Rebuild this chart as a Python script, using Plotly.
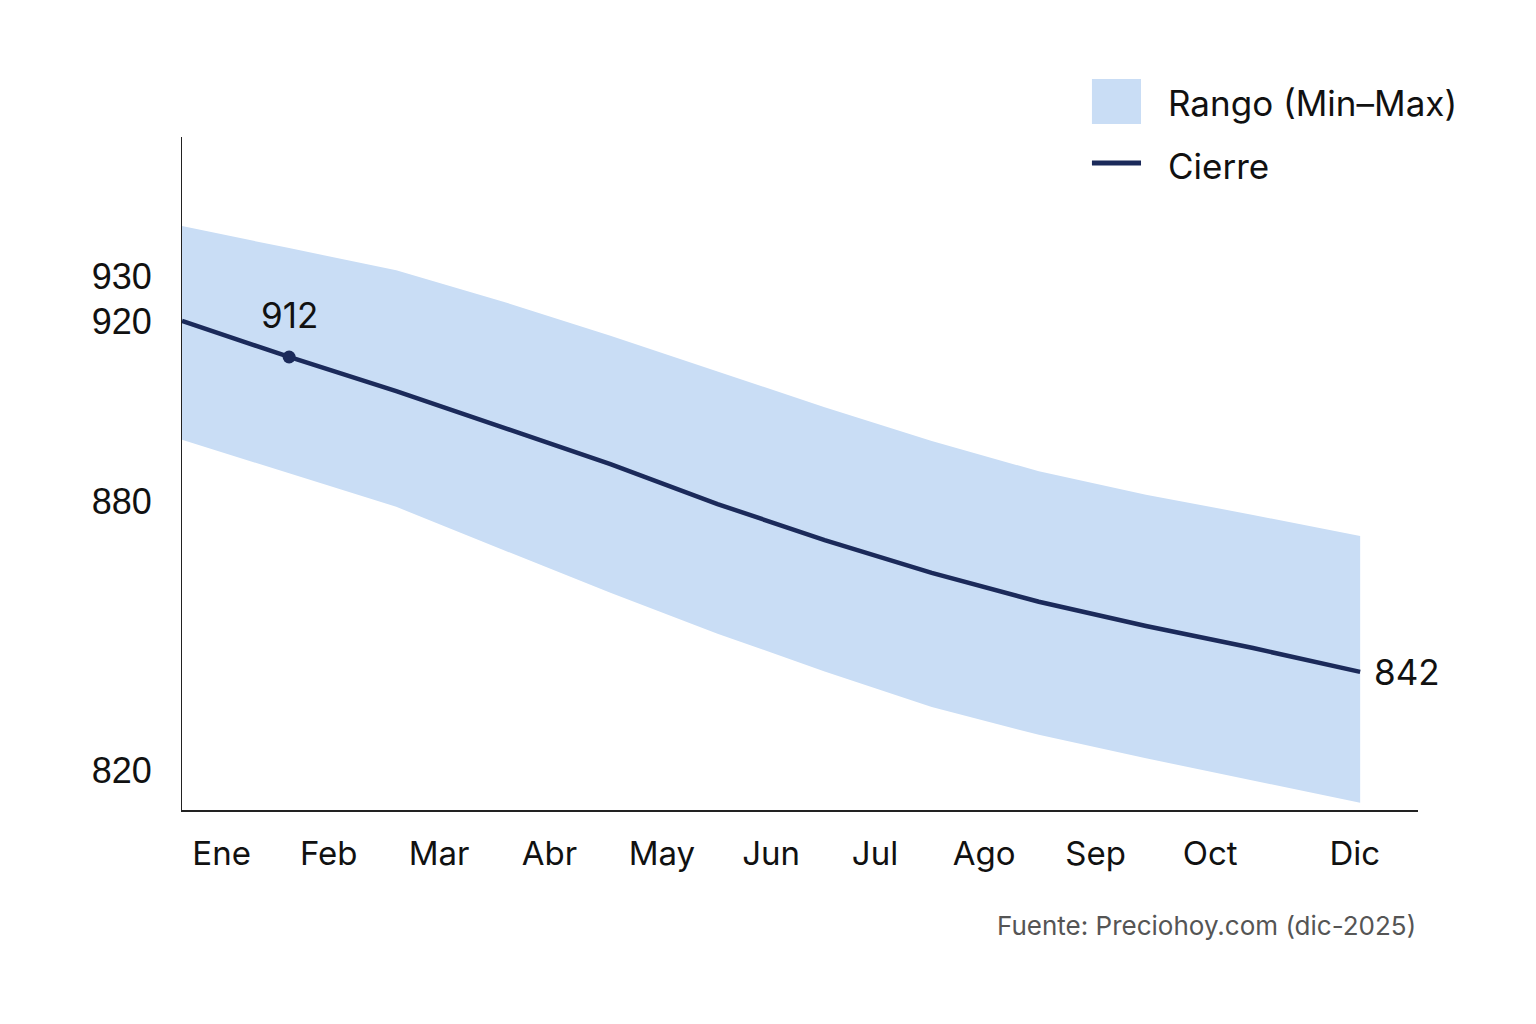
import plotly.graph_objects as go

meses = ["Ene", "Feb", "Mar", "Abr", "May", "Jun", "Jul", "Ago", "Sep", "Oct", "Nov", "Dic"]
cierre = [920.0, 912.0, 904.4, 896.4, 888.2, 879.3, 871.3, 864.0, 857.6, 852.2, 847.3, 842.0]
maximo = [941.1, 936.2, 931.3, 924.3, 916.7, 908.8, 900.8, 893.3, 886.6, 881.4, 876.9, 872.2]
minimo = [893.6, 886.2, 878.7, 869.1, 859.6, 850.5, 842.1, 834.2, 828.0, 822.8, 817.8, 812.9]

tick_labels = ["Ene", "Feb", "Mar", "Abr", "May", "Jun", "Jul", "Ago", "Sep", "Oct", "Dic"]
tick_pos = [0.37, 1.37, 2.4, 3.43, 4.48, 5.5, 6.47, 7.49, 8.53, 9.6, 10.95]
y_ticks = [820, 880, 920, 930]

serie_rango = "Rango (Min–Max)"
serie_cierre = "Cierre"
fuente = "Fuente: Preciohoy.com (dic-2025)"

x = list(range(len(meses)))

BAND = "#c9ddf5"
NAVY = "#1b2a5a"
FONT = "Inter, Roboto, sans-serif"

fig = go.Figure()
fig.add_trace(go.Scatter(x=x, y=minimo, mode="lines", line=dict(width=0, color=BAND),
                         showlegend=False, hoverinfo="skip"))
fig.add_trace(go.Scatter(x=x, y=maximo, mode="none",
                         fill="tonexty", fillcolor=BAND, name=serie_rango))
fig.add_trace(go.Scatter(x=x, y=cierre, mode="lines", line=dict(width=4.5, color=NAVY),
                         name=serie_cierre))
fig.add_trace(go.Scatter(x=[x[1]], y=[cierre[1]], mode="markers",
                         marker=dict(size=13, color=NAVY), showlegend=False))

fig.add_annotation(x=x[1], y=cierre[1], text=str(int(cierre[1])), showarrow=False,
                   yshift=42, font=dict(size=35, color="#111", family=FONT))
fig.add_annotation(x=x[-1], y=cierre[-1], text=str(int(cierre[-1])), showarrow=False,
                   xanchor="left", xshift=12, font=dict(size=35, color="#111", family=FONT))
fig.add_annotation(xref="paper", yref="paper", x=1.0, y=-0.171, xanchor="right", yanchor="middle",
                   text=fuente, showarrow=False,
                   font=dict(size=26, color="#555", family=FONT))

# legend drawn as swatches + labels (matches the reference's large swatches)
fig.add_shape(type="rect", xref="paper", yref="paper", x0=0.7362, x1=0.7759, y0=1.0193, y1=1.0862,
              fillcolor=BAND, line=dict(width=0))
fig.add_shape(type="line", xref="paper", yref="paper", x0=0.7362, x1=0.7759, y0=0.9614, y1=0.9614,
              line=dict(color=NAVY, width=5))
fig.add_annotation(xref="paper", yref="paper", x=0.7961, y=1.0505, xanchor="left", yanchor="middle",
                   text=serie_rango, showarrow=False, font=dict(size=35, color="#111", family=FONT))
fig.add_annotation(xref="paper", yref="paper", x=0.7961, y=0.9569, xanchor="left", yanchor="middle",
                   text=serie_cierre, showarrow=False, font=dict(size=35, color="#111", family=FONT))

fig.update_layout(
    width=1536, height=1024,
    paper_bgcolor="white", plot_bgcolor="white",
    margin=dict(l=174, r=126, t=129, b=222),
    font=dict(family=FONT, color="#111"),
    showlegend=False,
)
fig.update_xaxes(range=[0, 11.54], tickvals=tick_pos, ticktext=tick_labels,
                 showgrid=False, zeroline=False, showline=True, linecolor="#222", linewidth=1.5,
                 ticks="", ticklabelstandoff=14, tickfont=dict(size=33, family=FONT, color="#111"))
fig.update_yaxes(range=[811.3, 960.9], tickvals=y_ticks, ticktext=[str(v) for v in y_ticks],
                 showgrid=False, zeroline=False, showline=True, linecolor="#222", linewidth=1,
                 ticks="", ticklabelstandoff=22, tickfont=dict(size=36, family="Liberation Sans, Arial, sans-serif", color="#111"))

fig.write_html("out.html")
